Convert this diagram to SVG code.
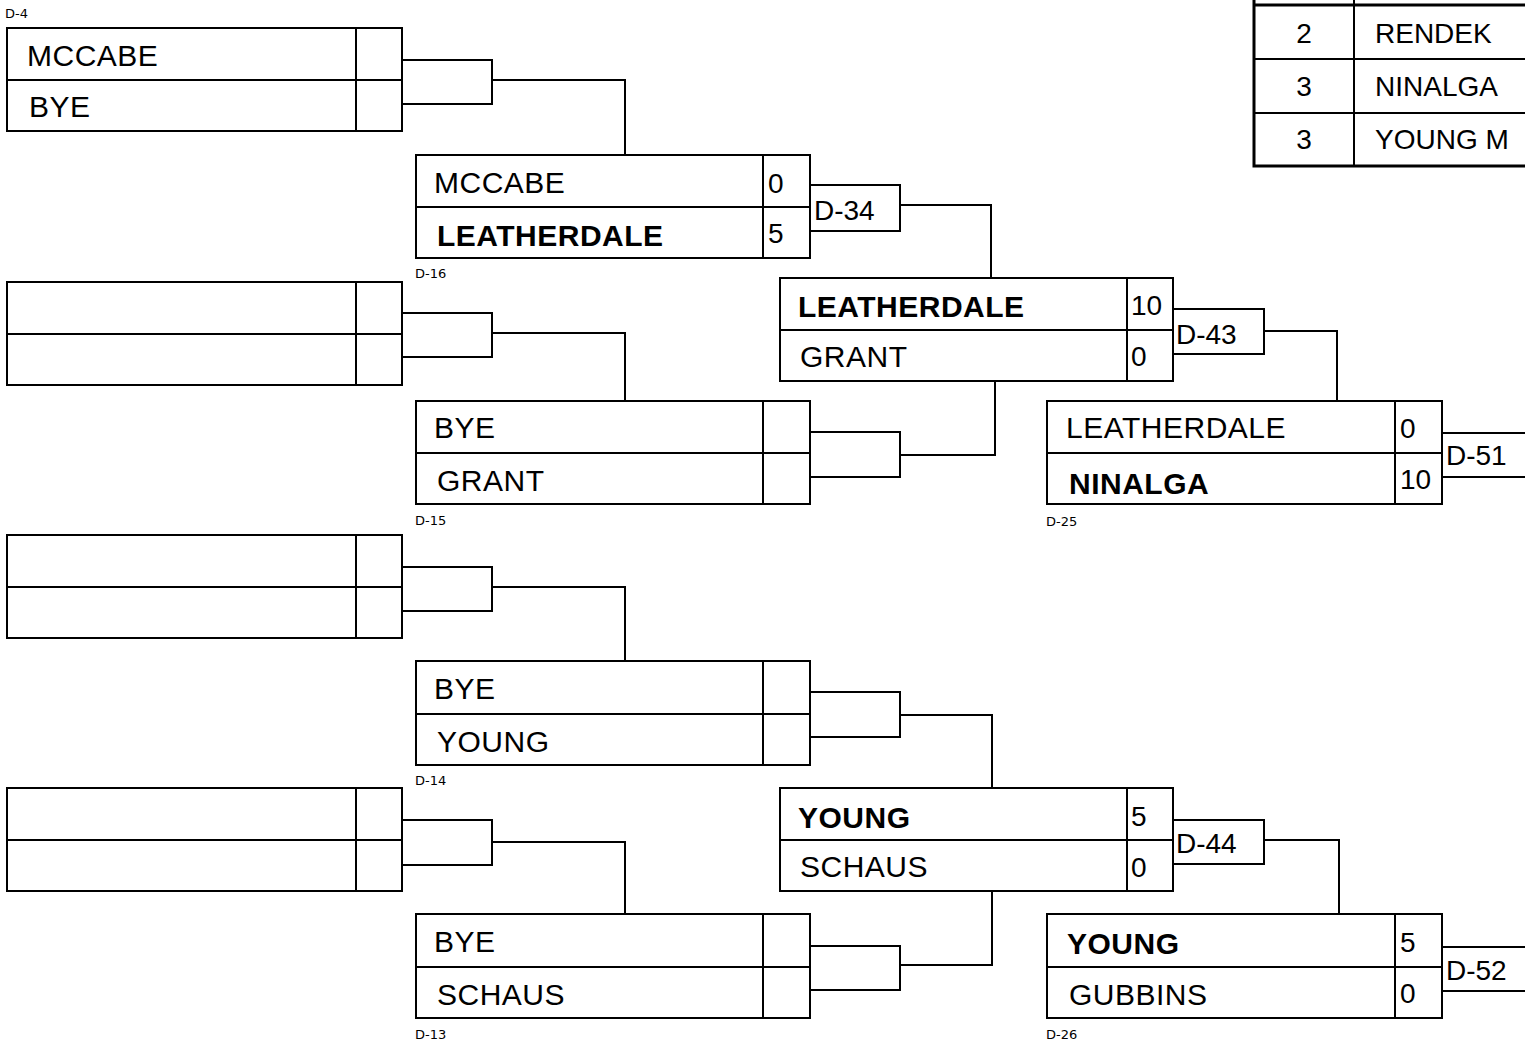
<svg xmlns="http://www.w3.org/2000/svg" width="1525" height="1041" viewBox="0 0 1525 1041">
<style>
.bx{fill:#fff;stroke:#000;stroke-width:2}
.ln{fill:none;stroke:#000;stroke-width:2}
.nm{font-family:"Liberation Sans",Arial,sans-serif;font-size:30px;letter-spacing:0.5px;fill:#000}
.b{font-weight:bold}
.sc{font-family:"Liberation Sans",Arial,sans-serif;font-size:28px;fill:#000}
.lb{font-family:"DejaVu Sans",Verdana,sans-serif;font-size:13px;fill:#000}
.tb{font-family:"Liberation Sans",Arial,sans-serif;font-size:28px;fill:#000}
</style>
<rect x="0" y="0" width="1525" height="1041" fill="#fff"/>

<g id="connectors">
<path class="ln" d="M402,60 H492 V104 H402 M492,80 H625 V155"/>
<path class="ln" d="M402,313 H492 V357 H402 M492,333 H625 V401"/>
<path class="ln" d="M402,567 H492 V611 H402 M492,587 H625 V661"/>
<path class="ln" d="M402,820 H492 V865 H402 M492,842 H625 V914"/>
<path class="ln" d="M810,185 H900 V231 H810 M900,205 H991 V278"/>
<path class="ln" d="M810,432 H900 V477 H810 M900,455 H995 V381"/>
<path class="ln" d="M810,692 H900 V737 H810 M900,715 H992 V788"/>
<path class="ln" d="M810,946 H900 V990 H810 M900,965 H992 V891"/>
<path class="ln" d="M1173,309 H1264 V354 H1173 M1264,331 H1337 V401"/>
<path class="ln" d="M1173,820 H1264 V864 H1173 M1264,840 H1339 V914"/>
<path class="ln" d="M1442,433 H1527 M1442,477 H1527"/>
<path class="ln" d="M1442,947 H1527 M1442,991 H1527"/>
<text class="sc" x="814" y="220">D-34</text>
<text class="sc" x="1176" y="344">D-43</text>
<text class="sc" x="1176" y="853">D-44</text>
<text class="sc" x="1446" y="465">D-51</text>
<text class="sc" x="1446" y="980">D-52</text>
</g>

<g id="D-4">
<rect class="bx" x="7" y="28" width="395" height="103"/>
<path class="ln" d="M7,80 H402 M356,28 V131"/>
<text class="lb" x="5" y="18">D-4</text>
<text class="nm" x="27" y="66">MCCABE</text>
<text class="nm" x="29" y="117">BYE</text>
</g>

<g id="r1-2">
<rect class="bx" x="7" y="282" width="395" height="103"/>
<path class="ln" d="M7,334 H402 M356,282 V385"/>
</g>

<g id="r1-3">
<rect class="bx" x="7" y="535" width="395" height="103"/>
<path class="ln" d="M7,587 H402 M356,535 V638"/>
</g>

<g id="r1-4">
<rect class="bx" x="7" y="788" width="395" height="103"/>
<path class="ln" d="M7,840 H402 M356,788 V891"/>
</g>

<g id="D-16">
<rect class="bx" x="416" y="155" width="394" height="103"/>
<path class="ln" d="M416,207 H810 M763,155 V258"/>
<text class="nm" x="434" y="193">MCCABE</text>
<text class="nm b" x="437" y="246">LEATHERDALE</text>
<text class="sc" x="768" y="193">0</text>
<text class="sc" x="768" y="243">5</text>
<text class="lb" x="415" y="278">D-16</text>
</g>

<g id="D-15">
<rect class="bx" x="416" y="401" width="394" height="103"/>
<path class="ln" d="M416,453 H810 M763,401 V504"/>
<text class="nm" x="434" y="438">BYE</text>
<text class="nm" x="437" y="491">GRANT</text>
<text class="lb" x="415" y="525">D-15</text>
</g>

<g id="D-14">
<rect class="bx" x="416" y="661" width="394" height="104"/>
<path class="ln" d="M416,714 H810 M763,661 V765"/>
<text class="nm" x="434" y="699">BYE</text>
<text class="nm" x="437" y="752">YOUNG</text>
<text class="lb" x="415" y="785">D-14</text>
</g>

<g id="D-13">
<rect class="bx" x="416" y="914" width="394" height="104"/>
<path class="ln" d="M416,967 H810 M763,914 V1018"/>
<text class="nm" x="434" y="952">BYE</text>
<text class="nm" x="437" y="1005">SCHAUS</text>
<text class="lb" x="415" y="1039">D-13</text>
</g>

<g id="D-34">
<rect class="bx" x="780" y="278" width="393" height="103"/>
<path class="ln" d="M780,330 H1173 M1127,278 V381"/>
<text class="nm b" x="798" y="317">LEATHERDALE</text>
<text class="nm" x="800" y="367">GRANT</text>
<text class="sc" x="1131" y="315">10</text>
<text class="sc" x="1131" y="366">0</text>
</g>

<g id="D-36">
<rect class="bx" x="780" y="788" width="393" height="103"/>
<path class="ln" d="M780,840 H1173 M1127,788 V891"/>
<text class="nm b" x="798" y="828">YOUNG</text>
<text class="nm" x="800" y="877">SCHAUS</text>
<text class="sc" x="1131" y="826">5</text>
<text class="sc" x="1131" y="877">0</text>
</g>

<g id="D-25">
<rect class="bx" x="1047" y="401" width="395" height="103"/>
<path class="ln" d="M1047,453 H1442 M1395,401 V504"/>
<text class="nm" x="1066" y="438">LEATHERDALE</text>
<text class="nm b" x="1069" y="494">NINALGA</text>
<text class="sc" x="1400" y="438">0</text>
<text class="sc" x="1400" y="489">10</text>
<text class="lb" x="1046" y="526">D-25</text>
</g>

<g id="D-26">
<rect class="bx" x="1047" y="914" width="395" height="104"/>
<path class="ln" d="M1047,967 H1442 M1395,914 V1018"/>
<text class="nm b" x="1067" y="954">YOUNG</text>
<text class="nm" x="1069" y="1005">GUBBINS</text>
<text class="sc" x="1400" y="952">5</text>
<text class="sc" x="1400" y="1003">0</text>
<text class="lb" x="1046" y="1039">D-26</text>
</g>

<g id="standings">
<path class="ln" d="M1354,0 V166 M1253,59 H1527 M1253,113 H1527"/>
<path fill="none" stroke="#000" stroke-width="3" d="M1254,-2 V166 H1527 M1253,5 H1527"/>
<text class="tb" x="1304" y="43" text-anchor="middle">2</text>
<text class="tb" x="1375" y="43">RENDEK</text>
<text class="tb" x="1304" y="96" text-anchor="middle">3</text>
<text class="tb" x="1375" y="96">NINALGA</text>
<text class="tb" x="1304" y="149" text-anchor="middle">3</text>
<text class="tb" x="1375" y="149">YOUNG M</text>
</g>
</svg>
